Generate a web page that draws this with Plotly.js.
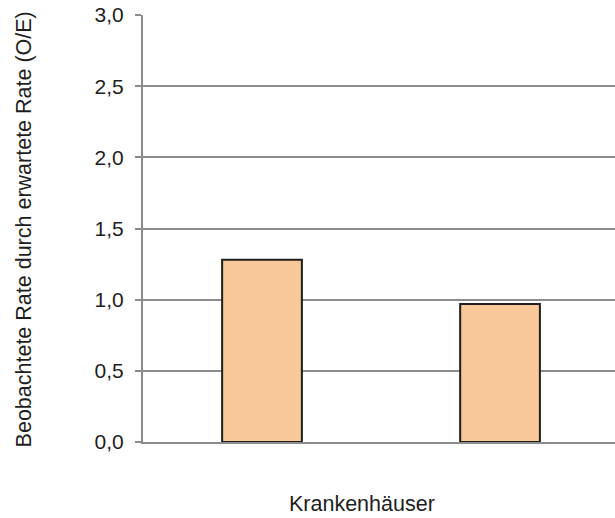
<!DOCTYPE html>
<html>
<head>
<meta charset="utf-8">
<script src="https://cdn.plot.ly/plotly-3.0.1.min.js"></script>
<style>html,body{margin:0;padding:0;overflow:hidden;background:#fff;}</style>
</head>
<body>
<div id="chart" style="width:615px;height:518px;"></div>
<script>
const categories = ["Krankenhaus A", "Krankenhaus B"];
const oeValues = [1.28, 0.97];
const yTickValues = [0, 0.5, 1.0, 1.5, 2.0, 2.5, 3.0];
const xTitle = "Krankenhäuser";
const yTitle = "Beobachtete Rate durch erwartete Rate (O/E)";

const trace = {
  type: "bar",
  x: categories,
  y: oeValues,
  width: 0.335,
  marker: { color: "#F8C898", line: { color: "#1e1e1e", width: 2 } },
  hoverinfo: "skip"
};

const textColor = "#1e1e1e";

const layout = {
  width: 615,
  height: 518,
  margin: { l: 143, r: 0, t: 15, b: 75.5 },
  paper_bgcolor: "#ffffff",
  plot_bgcolor: "#ffffff",
  separators: ",.",
  font: { family: "Liberation Sans, Arial, sans-serif", color: textColor, size: 21 },
  showlegend: false,
  xaxis: {
    type: "category",
    range: [-0.5, 1.483],
    showticklabels: false,
    ticks: "",
    showgrid: false,
    zeroline: false,
    showline: true,
    linecolor: "#8c8c8c",
    linewidth: 2
  },
  yaxis: {
    range: [0, 3.0],
    tickvals: yTickValues,
    tickformat: ".1f",
    ticks: "outside",
    ticklen: 6,
    tickwidth: 2,
    tickcolor: "#8c8c8c",
    ticklabelstandoff: 7,
    showgrid: true,
    gridcolor: "#8c8c8c",
    gridwidth: 2,
    zeroline: false,
    showline: true,
    linecolor: "#8c8c8c",
    linewidth: 2,
    tickfont: { size: 21, color: textColor }
  },
  annotations: [
    {
      text: xTitle, xref: "paper", yref: "paper",
      x: 0.464, y: -0.145, xanchor: "center", yanchor: "middle",
      showarrow: false, font: { size: 21.5, color: textColor }
    },
    {
      text: yTitle, xref: "paper", yref: "paper", textangle: -90,
      x: -0.252, y: 0.498, xanchor: "center", yanchor: "middle",
      showarrow: false, font: { size: 21.5, color: textColor }
    }
  ]
};

Plotly.newPlot("chart", [trace], layout, { staticPlot: true, displayModeBar: false });
</script>
</body>
</html>
